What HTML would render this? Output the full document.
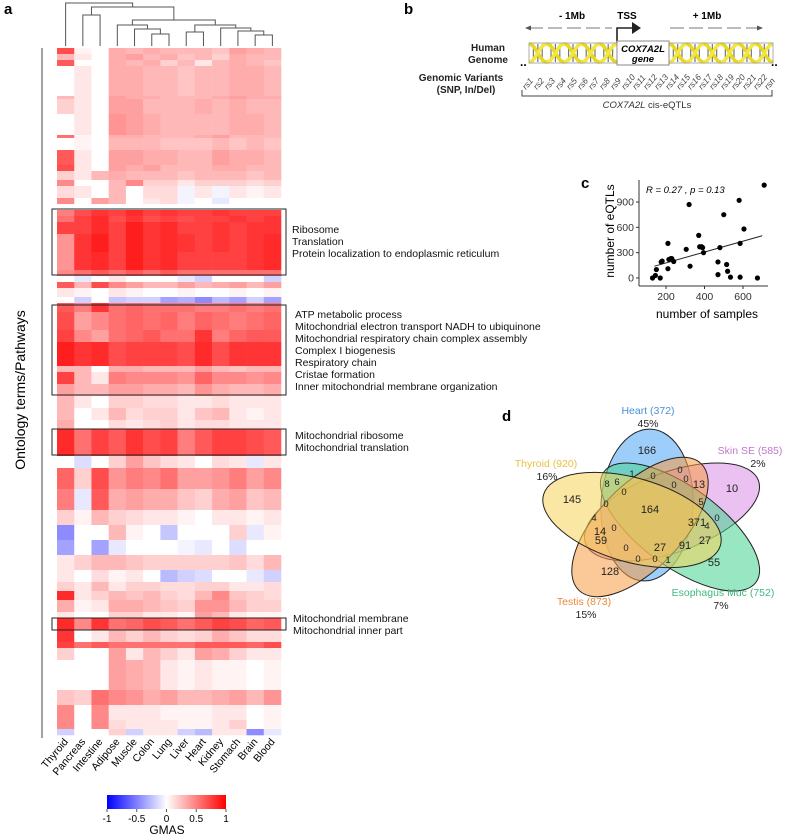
<!DOCTYPE html>
<html><head><meta charset="utf-8">
<style>
body{margin:0;background:#fff}
svg{display:block;font-family:"Liberation Sans",Arial,sans-serif}
</style></head>
<body>
<svg id="fig" width="787" height="838" viewBox="0 0 787 838" xmlns="http://www.w3.org/2000/svg">
<g id="panelA">
  <text x="4" y="14" font-size="15" font-weight="bold">a</text>
  <g id="dendro" stroke="#555" stroke-width="1" fill="none"></g>
  <g id="cells"></g>
  <line x1="42" y1="48" x2="42" y2="738" stroke="#444" stroke-width="1"/>
  <text transform="translate(25,390) rotate(-90)" text-anchor="middle" font-size="14">Ontology terms/Pathways</text>
  <g id="boxes" fill="none" stroke="#222" stroke-width="1">
    <rect x="52" y="209" width="234" height="66"/>
    <rect x="52" y="305" width="234" height="90"/>
    <rect x="52" y="429" width="234" height="26"/>
    <rect x="52" y="618" width="234" height="12"/>
  </g>
  <g font-size="10.5" fill="#111">
    <text x="292" y="233">Ribosome</text>
    <text x="292" y="245">Translation</text>
    <text x="292" y="257">Protein localization to endoplasmic reticulum</text>
    <text x="295" y="318">ATP metabolic process</text>
    <text x="295" y="330">Mitochondrial electron transport NADH to ubiquinone</text>
    <text x="295" y="342">Mitochondrial respiratory chain complex assembly</text>
    <text x="295" y="354">Complex I biogenesis</text>
    <text x="295" y="366">Respiratory chain</text>
    <text x="295" y="378">Cristae formation</text>
    <text x="295" y="390">Inner mitochondrial membrane organization</text>
    <text x="295" y="439">Mitochondrial ribosome</text>
    <text x="295" y="451">Mitochondrial translation</text>
    <text x="293" y="622">Mitochondrial membrane</text>
    <text x="293" y="634">Mitochondrial inner part</text>
  </g>
  <g id="collabels" font-size="10.5"></g>
  <defs><linearGradient id="cbar" x1="0" x2="1" y1="0" y2="0">
    <stop offset="0" stop-color="#0000ff"/><stop offset="0.5" stop-color="#ffffff"/><stop offset="1" stop-color="#ff0000"/></linearGradient></defs>
  <rect x="107" y="795" width="119" height="14" fill="url(#cbar)"/>
  <g id="cbticks" font-size="10" text-anchor="middle"></g>
  <text x="167" y="834" font-size="12" text-anchor="middle">GMAS</text>
</g>

<g id="panelB">
  <text x="404" y="14" font-size="15" font-weight="bold">b</text>
  <text x="572" y="19" font-size="10" font-weight="bold" text-anchor="middle">- 1Mb</text>
  <text x="627" y="19" font-size="10" font-weight="bold" text-anchor="middle">TSS</text>
  <text x="707" y="19" font-size="10" font-weight="bold" text-anchor="middle">+ 1Mb</text>
  <line x1="529" y1="28" x2="612" y2="28" stroke="#777" stroke-dasharray="14,5"/>
  <polygon points="525,28 531,25.5 531,30.5" fill="#555"/>
  <line x1="670" y1="28" x2="758" y2="28" stroke="#777" stroke-dasharray="14,5"/>
  <polygon points="763,28 757,25.5 757,30.5" fill="#555"/>
  <path d="M617,43 V28 H634" stroke="#222" stroke-width="1.6" fill="none"/>
  <polygon points="641,28 632,22 632,34" fill="#222"/>
  <g id="dna"></g>
  <rect x="617" y="41" width="52" height="24" fill="#fff" stroke="#888"/>
  <text x="643" y="52" font-size="9.5" font-weight="bold" font-style="italic" text-anchor="middle">COX7A2L</text>
  <text x="643" y="62" font-size="9.5" font-weight="bold" font-style="italic" text-anchor="middle">gene</text>
  <text x="520" y="66" font-size="12" font-weight="bold">..</text>
  <text x="771" y="66" font-size="12" font-weight="bold">..</text>
  <g font-size="10" font-weight="bold" text-anchor="middle" fill="#222">
    <text x="488" y="51">Human</text><text x="488" y="63">Genome</text>
    <text x="461" y="81">Genomic Variants</text><text x="466" y="93">(SNP, In/Del)</text>
  </g>
  <g id="rslabels" font-size="8.5" fill="#444"></g>
  <path d="M522,90 V96 H772 V90" stroke="#444" fill="none"/>
  <text x="647" y="108" font-size="9.5" text-anchor="middle" fill="#333"><tspan font-style="italic">COX7A2L</tspan> cis-eQTLs</text>
</g>

<g id="panelC">
  <text x="581" y="188" font-size="15" font-weight="bold">c</text>
  <g id="scatter"></g>
  <text x="646" y="193" font-size="9.5" font-style="italic">R = 0.27 , p = 0.13</text>
  <text transform="translate(614,231) rotate(-90)" font-size="12" text-anchor="middle">number of eQTLs</text>
  <text x="707" y="318" font-size="12" text-anchor="middle">number of samples</text>
</g>

<g id="panelD">
  <text x="502" y="421" font-size="15" font-weight="bold">d</text>
  <g id="venn"></g>
</g>
</svg>
<script>
const NS='http://www.w3.org/2000/svg';
function mk(tag,attrs,parent){const e=document.createElementNS(NS,tag);for(const k in attrs)e.setAttribute(k,attrs[k]);parent.appendChild(e);return e;}

/* ---------- Panel a heatmap data ---------- */
const tissues=['Thyroid','Pancreas','Intestine','Adipose','Muscle','Colon','Lung','Liver','Heart','Kidney','Stomach','Brain','Blood'];
const bandRows=[2,2,2,10,1,5,7,1,4,5,2,3,2,4,2,2, 2,2,4,6,6,2,2,2,3,2, 3,6,4,8,2,4,4,4,4,3, 9,4,7,7,5,5,5,5,4,3,3,4,2, 4,4,2,4,10,5,5,3,2];
const bandValues=[
[.75,.05,0,.35,.3,.35,.3,.3,.3,.25,.4,.35,.3],
[.3,.1,0,.35,.4,.3,.35,.25,.3,.2,.35,.3,.3],
[.7,0,0,.35,.3,.35,.2,.3,.1,.3,.35,.3,.25],
[0,.1,0,.35,.35,.3,.3,.25,.3,.3,.35,.35,.3],
[.3,.1,0,.4,.35,.35,.3,.3,.3,.35,.4,.35,.35],
[.2,.1,0,.4,.4,.3,.3,.3,.35,.3,.35,.3,.3],
[0,.1,0,.45,.4,.35,.3,.3,.3,.3,.35,.35,.3],
[.6,.05,0,.35,.35,.3,.3,.3,.35,.4,.3,.3,.3],
[0,.05,0,.3,.3,.3,.25,.25,.25,.3,.25,.3,.25],
[.7,.1,0,.4,.4,.35,.35,.3,.3,.4,.35,.35,.3],
[.75,.1,0,.4,.35,.4,.3,.3,.3,.35,.35,.3,.3],
[.2,.1,.3,.35,.3,.3,.3,.25,.3,.3,.3,.25,.3],
[.5,0,0,.3,.5,.2,.2,.1,.2,.2,.2,.15,.2],
[.15,.1,0,.3,0,.15,.15,-.05,.1,-.05,.1,.05,.1],
[.5,0,.4,.3,0,.1,.15,-.05,0,-.1,0,0,0],
[0,0,0,0,0,0,0,0,0,0,0,0,0],
[.55,.75,.85,.8,.9,.8,.85,.8,.8,.85,.8,.8,.8],
[.6,.8,.9,.75,.85,.75,.8,.75,.8,.8,.85,.8,.85],
[.8,.8,.9,.8,.95,.85,.9,.8,.8,.85,.8,.85,.85],
[.45,.85,.95,.8,.95,.85,.9,.85,.8,.85,.8,.85,.9],
[.45,.85,.9,.8,.95,.85,.9,.8,.8,.8,.8,.85,.9],
[.5,.6,.7,.6,.7,.6,.7,.6,.6,.6,.6,.6,.6],
[0,-.1,0,.1,0,0,0,-.1,-.2,0,0,0,-.2],
[.7,.3,.75,.5,.4,.3,.3,.4,.3,.35,.4,.3,.4],
[.1,.05,0,.1,.05,0,0,.05,0,0,.05,0,.05],
[0,-.2,0,-.25,-.2,-.2,-.4,-.35,-.5,-.3,-.4,-.2,-.4],
[.7,.55,.85,.6,.65,.6,.6,.6,.55,.55,.6,.55,.6],
[.75,.4,.5,.6,.65,.6,.65,.55,.65,.6,.55,.6,.65],
[.8,.5,.4,.6,.65,.7,.6,.6,.85,.55,.65,.7,.7],
[.95,.85,.9,.75,.8,.8,.8,.75,.9,.75,.85,.85,.85],
[.3,.3,0,.35,.35,.3,.3,.3,.4,.3,.25,.3,.3],
[.8,.3,.1,.55,.5,.5,.5,.45,.65,.5,.5,.45,.5],
[.4,.3,.3,.4,.4,.35,.35,.3,.45,.35,.3,.3,.35],
[.3,.1,0,.2,.2,.15,.15,.1,.1,.15,.1,.1,.1],
[.3,0,.1,.3,.15,.2,.2,.1,.25,.3,.1,.05,.1],
[.35,0,0,.15,.1,.15,.2,.1,.15,.15,.1,.1,.1],
[.9,.6,.8,.7,.85,.75,.8,.55,.7,.8,.8,.75,.7],
[0,-.15,0,.2,.4,.25,.15,.1,0,.15,.1,-.1,.1],
[.65,.2,.75,.45,.55,.5,.6,.4,.4,.45,.55,.4,.5],
[.55,-.1,.7,.35,.4,.35,.35,.25,.2,.35,.4,.25,.3],
[.2,.05,.3,.2,.15,.1,.1,.05,0,.1,.1,.05,.1],
[-.5,0,0,.3,.05,0,-.25,0,0,0,.2,-.1,.05],
[-.4,0,-.4,-.1,0,0,0,-.05,-.1,0,-.15,0,0],
[.1,.2,.3,.3,.25,.2,.2,.2,.2,.2,.25,.15,.3],
[.1,0,.15,.05,.1,0,-.3,-.2,-.15,0,0,-.1,-.2],
[.2,.1,.3,.1,.2,.2,.15,.15,.2,.2,.1,.1,.15],
[.9,.1,.2,.3,.25,.3,.2,.15,.3,.5,.25,.2,.15],
[.35,.05,.1,.35,.35,.3,.25,.2,.45,.45,.3,.2,.2],
[.1,0,0,.2,.2,.1,.1,.05,.4,.3,.1,.05,.05],
[.9,.5,.85,.6,.65,.75,.7,.6,.7,.8,.75,.65,.7],
[.85,0,.1,.3,.2,.3,.2,.15,.2,.35,.25,.15,.15],
[.8,.6,.7,.6,.6,.6,.6,.6,.7,.7,.7,.65,.75],
[.2,0,0,.4,.1,.3,.2,.1,.4,.35,.2,.1,.1],
[0,0,0,.4,.35,.3,.1,.05,.1,.05,.05,0,.05],
[.25,.2,.6,.5,.45,.35,.4,.3,.3,.35,.4,.3,.45],
[.5,0,.5,.1,.1,.1,.05,.05,.05,.1,.1,0,.05],
[.5,0,.5,.15,.1,.1,.1,.05,.05,.1,.2,0,.05],
[-.2,0,0,.2,-.2,.1,.1,-.2,-.3,.1,.1,-.5,-.1]
];
const cbTicks=[-1,-0.5,0,0.5,1];
const merges=[[5,6,34],[11,12,35],[10,14,31],[9,15,28],[7,8,32],[4,13,29],[3,18,25],[17,16,25],[19,20,20],[1,2,15],[22,21,7],[0,23,3]];

const HX0=57,HX1=281,HY0=48,HY1=735;
const colW=(HX1-HX0)/tissues.length;
const totalRows=bandRows.reduce((a,b)=>a+b,0);
const rowH=(HY1-HY0)/totalRows;
function xCol(i){return HX0+i*colW;}
function colorOf(v){v=Math.max(-1,Math.min(1,v));
 if(v>=0){const g=Math.round(255*(1-v*0.93));return `rgb(255,${g},${g})`;}
 const c=Math.round(255*(1+v*0.9));return `rgb(${c},${c},255)`;}
const cells=document.getElementById('cells');
let r=0;
bandValues.forEach((vals,bi)=>{
 const y=HY0+r*rowH,h=bandRows[bi]*rowH;
 vals.forEach((v,ci)=>{
  const c=mk('rect',{x:xCol(ci).toFixed(2),y:y.toFixed(2),width:(colW+0.3).toFixed(2),height:(h+0.3).toFixed(2),fill:colorOf(v)},cells);
  
  
 });
 r+=bandRows[bi];
});
const cl=document.getElementById('collabels');
tissues.forEach((t,i)=>{
 const cx=xCol(i)+colW/2+3;
 const tx=mk('text',{transform:`translate(${cx},742) rotate(-50)`,'text-anchor':'end'},cl);
 tx.textContent=t;
 
 
});
const cbt=document.getElementById('cbticks');
cbTicks.forEach(v=>{
 const x=107+(v+1)/2*119;
 mk('line',{x1:x,y1:809,x2:x,y2:812,stroke:'#555'},cbt);
 const t=mk('text',{x:x,y:822},cbt);t.textContent=String(v);
 
 
});
const dg=document.getElementById('dendro');
const nodes=tissues.map((t,i)=>({x:xCol(i)+colW/2,y:46}));
merges.forEach(m=>{
 const a=nodes[m[0]],b=nodes[m[1]],h=m[2];
 const p=mk('path',{d:`M${a.x},${a.y} V${h} H${b.x} V${b.y}`},dg);
 
 
 nodes.push({x:(a.x+b.x)/2,y:h});
});

/* ---------- Panel b ---------- */
const dna=document.getElementById('dna');
function helix(x0,x1,n){
 const w=(x1-x0)/n;
 for(let i=0;i<n;i++){
  const a=x0+i*w;
  for(let k=1;k<4;k++)mk('line',{x1:a+k*w/4,y1:44,x2:a+k*w/4,y2:62,stroke:'#777','stroke-width':1.2},dna);
  mk('path',{d:`M${a},44 C${a+w*0.4},44 ${a+w*0.6},62 ${a+w},62`,stroke:'#e8d820','stroke-width':3.5,fill:'none'},dna);
  mk('path',{d:`M${a},62 C${a+w*0.4},62 ${a+w*0.6},44 ${a+w},44`,stroke:'#f2e640','stroke-width':3.5,fill:'none'},dna);
 }
 mk('rect',{x:x0,y:43,width:x1-x0,height:20,fill:'none',stroke:'#999','stroke-width':0.8},dna);
}
helix(529,617,5);helix(669,773,6);
const rsNames=['rs1','rs2','rs3','rs4','rs5','rs6','rs7','rs8','rs9','rs10','rs11','rs12','rs13','rs14','rs15','rs16','rs17','rs18','rs19','rs20','rs21','rs22','rsn'];
const rsg=document.getElementById('rslabels');
rsNames.forEach((n,i)=>{
 const x=526+i*(242/22);
 const t=mk('text',{transform:`translate(${x.toFixed(1)},90) rotate(-50)`,'font-style':'italic'},rsg);
 t.textContent=n;
 
 
});

/* ---------- Panel c scatter ---------- */
const samples=[130,145,150,170,175,180,210,210,215,225,230,240,305,320,325,370,375,385,390,395,470,470,480,500,515,520,535,580,585,585,605,675,710];
const eqtls=[0,30,100,0,190,200,410,110,220,230,230,195,340,870,140,505,370,370,360,300,190,40,360,750,160,80,10,920,410,10,580,0,1100];
const fitX=[140,700];
const fitY=[140,500];
const xTicks=[200,400,600];
const yTicks=[0,300,600,900];
function sx(v){return 666+(v-200)*0.1925;}
function sy(v){return 278-v*(76/900);}
const sc=document.getElementById('scatter');
const ya=mk('line',{x1:639,y1:180,x2:639,y2:286,stroke:'#333'},sc);


const xa=mk('line',{x1:639,y1:286,x2:768,y2:286,stroke:'#333'},sc);


xTicks.forEach(v=>{const x=sx(v);mk('line',{x1:x,y1:286,x2:x,y2:289,stroke:'#333'},sc);
 const t=mk('text',{x:x,y:300,'font-size':10.5,'text-anchor':'middle',fill:'#333'},sc);t.textContent=v;
 
 });
yTicks.forEach(v=>{const y=sy(v);mk('line',{x1:636,y1:y,x2:639,y2:y,stroke:'#333'},sc);
 const t=mk('text',{x:634,y:y+3.5,'font-size':10.5,'text-anchor':'end',fill:'#333'},sc);t.textContent=v;
 
 });
const fl=mk('line',{x1:sx(fitX[0]),y1:sy(fitY[0]),x2:sx(fitX[1]),y2:sy(fitY[1]),stroke:'#222','stroke-width':1},sc);


samples.forEach((s,i)=>{
 const c=mk('circle',{cx:sx(s),cy:sy(eqtls[i]),r:2.6,fill:'#000'},sc);
 
 
});

/* ---------- Panel d venn ---------- */
const setNames=['Heart (372)','Skin SE (585)','Esophagus Muc (752)','Testis (873)','Thyroid (920)'];
const setPercents=['45%','2%','7%','15%','16%'];
const setColors=['#4da6f5','#d98ee3','#45d190','#f79a42','#f7d35a'];
const labelColors=['#4a90d9','#c177cc','#3fb880','#e98a35','#e8c140'];
const regionLabels=['166','1','0','0','0','13','8','6','0','0','10','145','0','164','5','4','0','371','4','0','14','59','0','27','91','27','0','0','1','55','128'];
const regionX=[647,632,653,680,686,699,607,617,624,674,732,572,606,650,701,594,614,697,707,717,600,601,626,660,685,705,638,655,668,714,610];
const regionY=[450,473,475,469,478,484,483,481,491,484,488,499,503,509,501,517,527,522,525,517,531,540,547,547,545,540,558,558,559,562,571];
const vg=document.getElementById('venn');
const ellipseGeom=[
 {cx:647,cy:505,rx:46,ry:76,rot:3},
 {cx:672,cy:512,rx:92,ry:40,rot:-20},
 {cx:680,cy:527,rx:94,ry:40,rot:36},
 {cx:640,cy:527,rx:42,ry:88,rot:44},
 {cx:632,cy:520,rx:92,ry:42,rot:16}
];
ellipseGeom.forEach((g,i)=>{
 const e=mk('ellipse',{cx:0,cy:0,rx:g.rx,ry:g.ry,fill:setColors[i],'fill-opacity':0.55,stroke:'#222','stroke-width':1,transform:`translate(${g.cx},${g.cy}) rotate(${g.rot})`},vg);
 
 
});
regionLabels.forEach((l,i)=>{
 const t=mk('text',{x:regionX[i],y:regionY[i]+4,'font-size':l.length>1?11:9.5,'text-anchor':'middle',fill:'#222'},vg);
 t.textContent=l;
 
 
});
const labX=[648,750,723,584,546],labY=[414,454,596,605,467];
const pctX=[648,758,721,586,547];
setNames.forEach((n,i)=>{
 const t=mk('text',{x:labX[i],y:labY[i],'font-size':10.5,'text-anchor':'middle',fill:labelColors[i]},vg);
 t.textContent=n;
 
 
 const p=mk('text',{x:pctX[i],y:labY[i]+13,'font-size':10.5,'text-anchor':'middle',fill:'#222'},vg);
 p.textContent=setPercents[i];
 
 
});
</script>
</body></html>
